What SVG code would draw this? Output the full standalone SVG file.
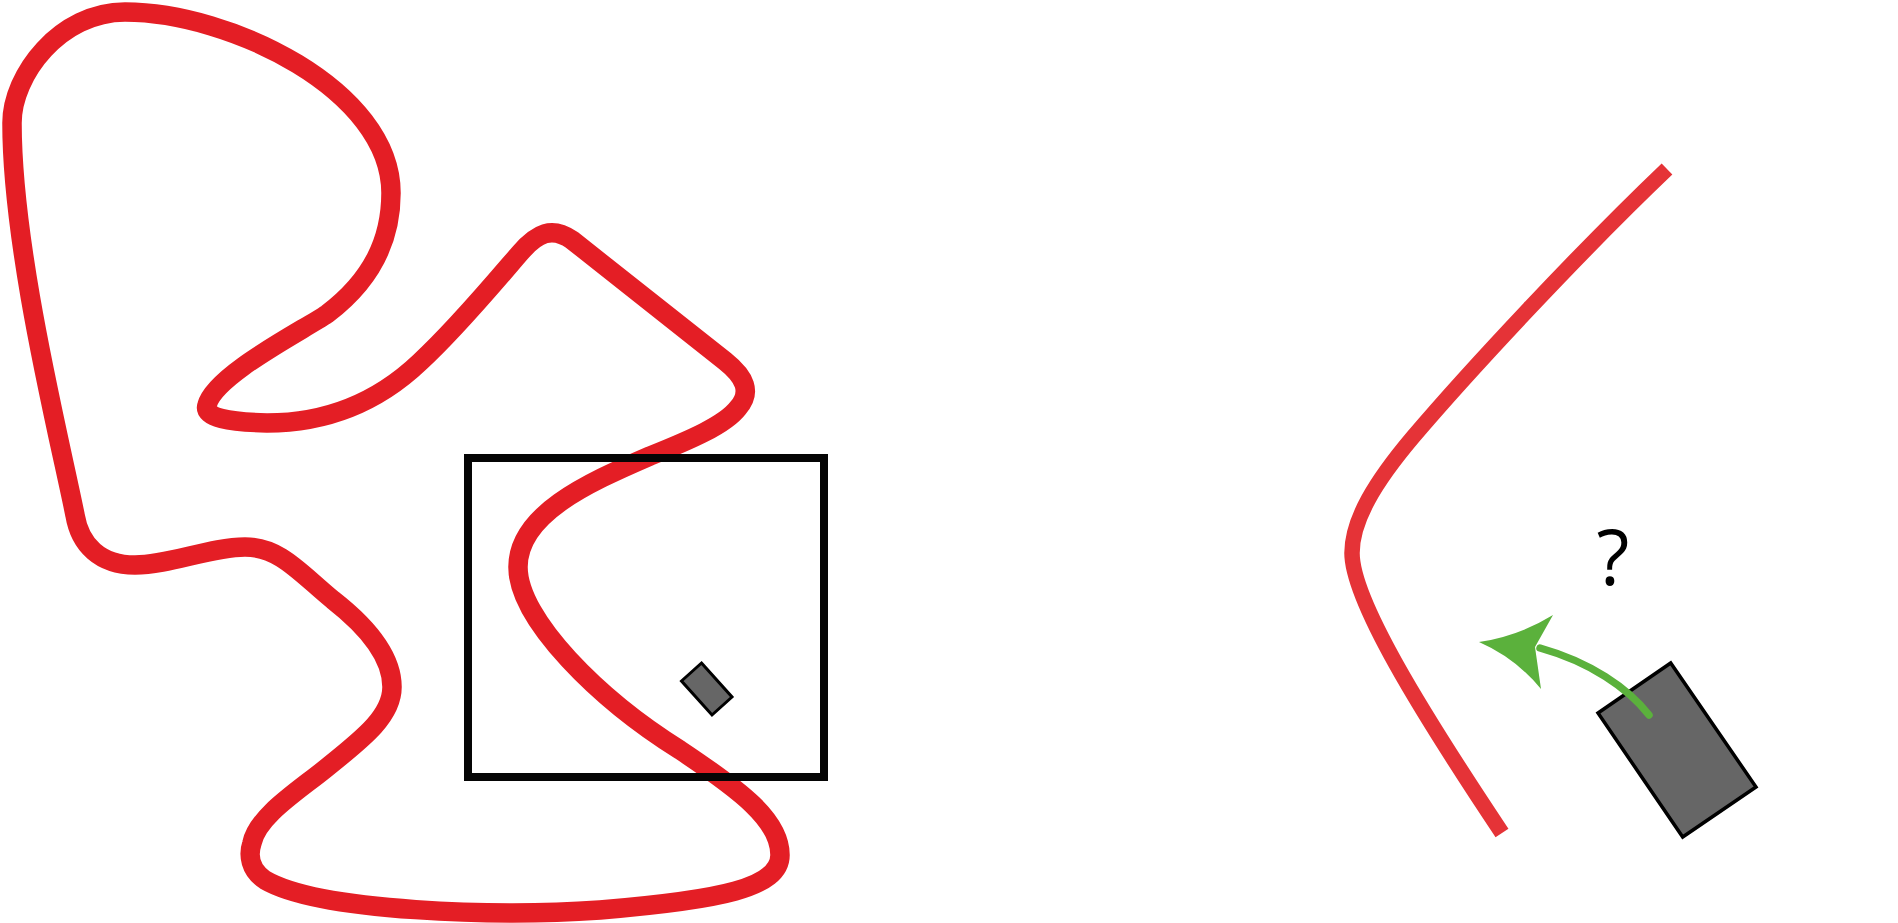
<svg xmlns="http://www.w3.org/2000/svg" width="1898" height="923" viewBox="0 0 1898 923">
<style>
.track{fill:none;stroke:#E41E25;stroke-width:19.5;stroke-linejoin:round}
.road{fill:none;stroke:#E53337;stroke-width:15.5;stroke-linecap:butt}
.frame{fill:none;stroke:#050505;stroke-width:8}
.car{fill:#666666;stroke:#000000;stroke-width:3.5;stroke-linejoin:miter}
.q{font-family:"Open Sans","Liberation Sans",sans-serif;font-size:76px;fill:#000000;text-anchor:middle}
</style>
<rect width="1898" height="923" fill="#ffffff"/>
<g id="track">
<path class="track" d="M125,12 C230,12 391,90 391,193 C391,240 372,280 327,314 C300,332 215,375 207,405 C203,418 230,422 267,423 C330,423 380,400 420,362 C455,330 495,282 520,253 C537,233 552,226 572,240 L725,361 C745,377 752,392 738,408 C725,425 690,440 650,456 C585,484 518,515 518,567 C518,620 600,700 680,750 C740,790 780,820 780,855 C780,888 720,900 600,910 C500,917 320,912 265,880 C250,870 248,855 252,843 C258,815 300,790 330,765 C365,737 392,715 392,687 C392,655 365,625 333,600 C300,573 280,547 245,547 C210,547 170,565 135,565 C100,565 80,545 75,515 C60,440 12,250 12,123 C12,75 60,12 125,12 Z"/>
</g>
<g id="frame">
<rect class="frame" x="468" y="458" width="356" height="319"/>
</g>
<g id="car-small">
<polygon class="car" style="stroke-width:3" points="701.5,663 732,697 712,715 681.5,681"/>
</g>
<g id="road">
<path class="road" d="M1667,169 C1580,252 1470,370 1413,437 C1375,482 1352,520 1352,553 C1352,600 1420,710 1502,833"/>
</g>
<g id="car">
<polygon class="car" points="1598,713 1670.7,663 1756,787 1682.7,837"/>
</g>
<g id="question">
<text class="q" x="1613" y="585">?</text>
</g>
<g id="connectors">
<path d="M1649,715 C1628,688 1590,662 1540,648" fill="none" stroke="#5BB13C" stroke-width="7.5" stroke-linecap="round"/>
<path d="M1479,642 Q1518.8,636 1553,615 L1535,647 L1541,689 Q1515.6,658 1479,642 Z" fill="#5BB13C"/>
</g>
</svg>
